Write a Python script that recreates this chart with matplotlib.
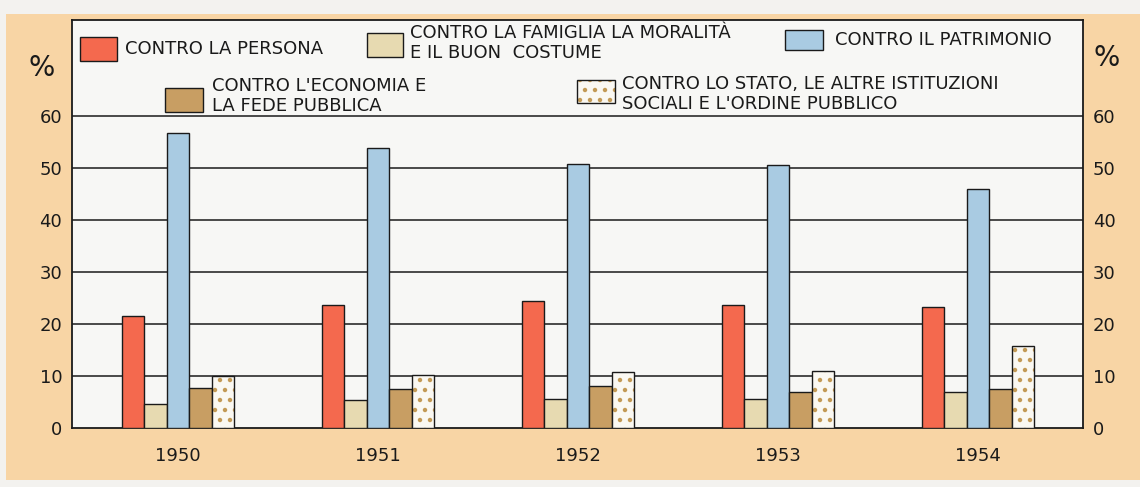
import matplotlib
matplotlib.use("Agg")
import matplotlib.pyplot as plt
import matplotlib.hatch as mhatch
from matplotlib.patches import Rectangle
import numpy as np

# ---- data ----
years = ["1950", "1951", "1952", "1953", "1954"]
series_names = [
    "CONTRO LA PERSONA",
    "CONTRO LA FAMIGLIA LA MORALITÀ\nE IL BUON  COSTUME",
    "CONTRO IL PATRIMONIO",
    "CONTRO L'ECONOMIA E\nLA FEDE PUBBLICA",
    "CONTRO LO STATO, LE ALTRE ISTITUZIONI\nSOCIALI E L'ORDINE PUBBLICO",
]
persona = [21.5, 23.6, 24.5, 23.7, 23.2]
famiglia = [4.7, 5.3, 5.6, 5.6, 6.9]
patrimonio = [56.7, 53.8, 50.8, 50.6, 45.9]
economia = [7.6, 7.5, 8.1, 7.0, 7.5]
stato = [10.0, 10.1, 10.7, 11.0, 15.7]
yticks = [0, 10, 20, 30, 40, 50, 60]

series = [persona, famiglia, patrimonio, economia, stato]
colors = ["#F4694E", "#E7DAB1", "#A9CBE2", "#C89E63", "#FAF8F2"]
hatches = [None, None, None, None, "."]
dot_color = "#C39A55"

# dot texture for the '.' hatch (styling only); num_rows must be even
try:
    class _Dots(mhatch.Circles):
        size = 0.15
        filled = True

        def __init__(self, hatch, density):
            self.num_rows = 10 * hatch.count('.')
            super().__init__(hatch, density)

    mhatch._hatch_types = [(_Dots if t is mhatch.SmallFilledCircles else t)
                           for t in mhatch._hatch_types]
except Exception:
    pass

W, H = 1140, 487
PEACH = "#F8D5A5"
PAGE = "#F3F2EF"
PLOTBG = "#F7F7F5"
INK = "#1a1a1a"

fig = plt.figure(figsize=(W / 100, H / 100), dpi=100, facecolor=PAGE)

def fx(x):
    return x / W

def fy(y):
    return 1 - y / H

# peach card behind the chart
fig.patches.append(Rectangle((fx(6), fy(480)), fx(1134), (480 - 14) / H,
                             transform=fig.transFigure, facecolor=PEACH,
                             edgecolor="none", zorder=-5))

ax_l, ax_r, ax_b, ax_t = 72, 1083, 428, 20
ax = fig.add_axes([fx(ax_l), fy(ax_b), (ax_r - ax_l) / W, (ax_b - ax_t) / H])
ax.set_facecolor(PLOTBG)
ymax = 60 + (116 - ax_t) / ((ax_b - 116) / 60)
ax.set_ylim(0, ymax)
ax.set_xlim(-0.53, 4.525)

x = np.arange(len(years))
w = 0.1125
offsets = [-2, -1, 0, 1, 2]
for vals, col, hat, off in zip(series, colors, hatches, offsets):
    if hat is None:
        ax.bar(x + off * w, vals, width=w, color=col, edgecolor=INK,
               linewidth=1.0, zorder=3)
    else:
        ax.bar(x + off * w, vals, width=w, color=col, edgecolor=dot_color,
               hatch=hat, linewidth=0, zorder=3)
        ax.bar(x + off * w, vals, width=w, fill=False, edgecolor=INK,
               linewidth=1.0, zorder=4)

for t in yticks[1:]:
    ax.axhline(t, color=INK, linewidth=1.1, zorder=1)

for s in ax.spines.values():
    s.set_color(INK)
    s.set_linewidth(1.3)

ax.set_xticks(x)
ax.set_xticklabels(years)
ax.set_yticks(yticks)
ax.set_yticklabels([str(t) for t in yticks])
ax.tick_params(axis="x", length=0, pad=14, labelsize=13, labelcolor=INK)
ax.tick_params(axis="y", length=0, pad=7, labelsize=13, labelcolor=INK,
               labelleft=True, labelright=True)

# percent signs
fig.text(fx(42), fy(68), "%", fontsize=20, ha="center", va="center", color=INK)
fig.text(fx(1107), fy(58), "%", fontsize=20, ha="center", va="center", color=INK)

# legend (manual layout)
swatches = [
    (80, 37, 117, 61),
    (367, 33, 403, 57),
    (785, 30, 823, 50),
    (165, 88, 203, 112),
    (577, 80, 615, 103),
]
text_pos = [
    (125, 49),
    (410, 43),
    (835, 40),
    (212, 96),
    (622, 94),
]
for (x0, y0, x1, y1), col, hat, name, (tx, ty) in zip(swatches, colors, hatches, series_names, text_pos):
    if hat is None:
        fig.patches.append(Rectangle((fx(x0), fy(y1)), (x1 - x0) / W, (y1 - y0) / H,
                                     transform=fig.transFigure, facecolor=col,
                                     edgecolor=INK, linewidth=1.0, zorder=5))
    else:
        fig.patches.append(Rectangle((fx(x0), fy(y1)), (x1 - x0) / W, (y1 - y0) / H,
                                     transform=fig.transFigure, facecolor=col,
                                     edgecolor=dot_color, hatch=hat, linewidth=0, zorder=5))
        fig.patches.append(Rectangle((fx(x0), fy(y1)), (x1 - x0) / W, (y1 - y0) / H,
                                     transform=fig.transFigure, fill=False,
                                     edgecolor=INK, linewidth=1.0, zorder=6))
    fig.text(fx(tx), fy(ty), name, fontsize=13, ha="left", va="center",
             linespacing=1.1, color=INK, zorder=7)

fig.savefig("out.png", dpi=100, facecolor=fig.get_facecolor())
